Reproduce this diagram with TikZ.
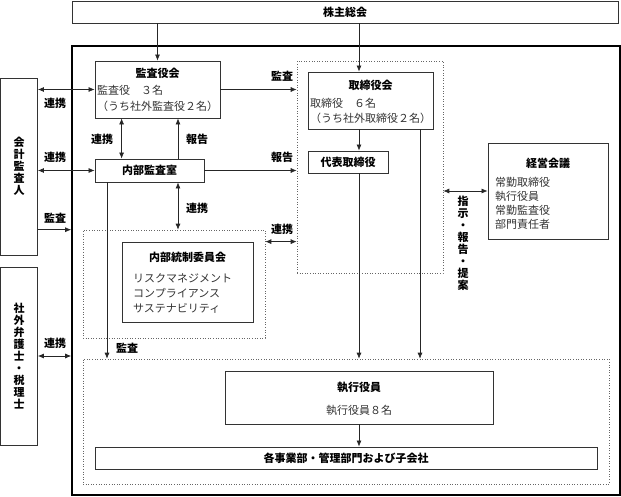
\documentclass[tikz,border=0pt]{standalone}
\usepackage{fontspec}
\newfontfamily\cjk{Noto Sans CJK JP}
\usetikzlibrary{arrows.meta,positioning,calc}

\begin{document}
\begin{tikzpicture}[x=1pt,y=-1pt]
  \tikzstyle{box}=[draw=black!80, line width=0.8pt, inner sep=0pt]
  \tikzstyle{dotbox}=[draw=black!60, dotted, line width=0.6pt, inner sep=0pt]
  \tikzstyle{title}=[font=\cjk\bfseries\fontsize{11}{13}\selectfont, inner sep=0pt]
  \tikzstyle{body}=[font=\cjk\fontsize{11}{13}\selectfont, text=black!80, inner sep=0pt, anchor=west]
  \tikzstyle{lbl}=[font=\cjk\bfseries\fontsize{11}{13}\selectfont, inner sep=0pt]
  \tikzstyle{vtext}=[font=\cjk\bfseries\fontsize{11}{12}\selectfont, align=center, inner sep=0pt]
  \tikzstyle{arr}=[-{Latex[length=6pt,width=5pt]}, line width=0.7pt, black!85]
  \tikzstyle{darr}=[{Latex[length=6pt,width=5pt]}-{Latex[length=6pt,width=5pt]}, line width=0.7pt, black!85]

  \useasboundingbox (0,0) rectangle (621,497);

  % Marco y cajas
  \node[box, minimum width=546pt, minimum height=22pt] (kabu) at (345,12) {};
  \node[title] (kabutxt) at (kabu) {株主総会};
  \node[draw=black, line width=1.6pt, minimum width=548pt, minimum height=449pt] (frame) at (346,270.5) {};

  \node[box, minimum width=37pt, minimum height=177pt] (kaikei) at (19,166.5) {};
  \node[vtext] (kaikeitxt) at (kaikei) {会\\計\\監\\査\\人};
  \node[box, minimum width=37pt, minimum height=178pt] (bengo) at (19,356) {};
  \node[vtext] (bengotxt) at (bengo) {社\\外\\弁\\護\\士\\・\\税\\理\\士};

  \node[box, minimum width=125pt, minimum height=57pt] (kansa) at (157.5,89.5) {};
  \node[title] (kansattl) at (157.5,73) {監査役会};
  \node[body] (kansa1) at (97,90) {監査役　３名};
  \node[body] (kansa2) at (97,106) {（うち社外監査役２名）};

  \node[box, minimum width=109pt, minimum height=23pt] (naibu) at (149.5,170.5) {};
  \node[title] (naibutxt) at (naibu) {内部監査室};

  \node[dotbox, minimum width=182pt, minimum height=108pt] (naidot) at (174,284) {};
  \node[box, minimum width=131pt, minimum height=80pt] (tosei) at (187.5,282) {};
  \node[title] (toseittl) at (187.5,257) {内部統制委員会};
  \node[body] (tosei1) at (133,278) {リスクマネジメント};
  \node[body] (tosei2) at (133,293) {コンプライアンス};
  \node[body] (tosei3) at (133,308) {サステナビリティ};

  \node[dotbox, minimum width=146pt, minimum height=212pt] (toridot) at (370,167) {};
  \node[box, minimum width=125pt, minimum height=57pt] (tori) at (370.5,100.5) {};
  \node[title] (torittl) at (370.5,85) {取締役会};
  \node[body] (tori1) at (310,103) {取締役　６名};
  \node[body] (tori2) at (310,118) {（うち社外取締役２名）};
  \node[box, minimum width=80pt, minimum height=22pt] (daihyo) at (348,162) {};
  \node[title] (daihyotxt) at (daihyo) {代表取締役};

  \node[box, minimum width=120pt, minimum height=96pt] (keiei) at (548,191) {};
  \node[title] (keieittl) at (548,163) {経営会議};
  \node[body] (keiei1) at (495,182) {常勤取締役};
  \node[body] (keiei2) at (495,196) {執行役員};
  \node[body] (keiei3) at (495,210) {常勤監査役};
  \node[body] (keiei4) at (495,224) {部門責任者};

  \node[dotbox, minimum width=526pt, minimum height=125pt] (lowdot) at (346,421.5) {};
  \node[box, minimum width=268pt, minimum height=53pt] (shikko) at (359,397.5) {};
  \node[title] (shikkottl) at (359,387) {執行役員};
  \node[body, anchor=center] (shikko1) at (359,410) {執行役員８名};
  \node[box, minimum width=502pt, minimum height=22pt] (kaku) at (346,458) {};
  \node[title] (kakutxt) at (kaku) {各事業部・管理部門および子会社};

  % Columnas de las flechas verticales
  \coordinate (xa) at (107,0);
  \coordinate (xb) at (178,0);
  \coordinate (xc) at (359,0);
  \coordinate (xd) at (420,0);

  % Flechas
  \draw[arr] (kansa.north |- kabu.south) -- (kansa.north);
  \draw[arr] (kabu.south -| xc) -- (tori.north -| xc);
  \draw[arr] (tori.south -| xc) -- (daihyo.north -| xc);
  \draw[arr] (daihyo.south -| xc) -- (lowdot.north -| xc);
  \draw[arr] (tori.south -| xd) -- (lowdot.north -| xd);
  \draw[arr] (shikko.south) -- (kaku.north -| shikko.south);

  \draw[darr] (kaikei.east |- kansa.west) -- (kansa.west);
  \draw[darr] (kaikei.east |- naibu.west) -- (naibu.west);
  \draw[arr] (kaikei.east |- naidot.north) -- (frame.west |- naidot.north);
  \draw[darr] (bengo.east) -- (frame.west |- bengo.east);

  \draw[darr] (kansa.south -| tosei.west) -- (naibu.north -| tosei.west);
  \draw[arr] (naibu.north -| xb) -- (kansa.south -| xb);
  \draw[darr] (naibu.south -| xb) -- (naidot.north -| xb);
  \draw[arr] (naibu.south -| xa) -- (lowdot.north -| xa);

  \draw[arr] (kansa.east) -- (toridot.west |- kansa.east);
  \draw[arr] (naibu.east) -- (toridot.west |- naibu.east);
  \draw[darr] (naidot.east |- tosei.north) -- (toridot.west |- tosei.north);
  \draw[darr] (toridot.east |- keiei.west) -- (keiei.west);

  % Etiquetas
  \node[lbl] (l1) at (55,103) {連携};
  \node[lbl] (l2) at (55,157) {連携};
  \node[lbl] (l3) at (55,218) {監査};
  \node[lbl] (l4) at (55,343) {連携};
  \node[lbl] (l5) at (102,139) {連携};
  \node[lbl] (l6) at (197,139) {報告};
  \node[lbl] (l7) at (197,208) {連携};
  \node[lbl] (l8) at (127,348) {監査};
  \node[lbl] (l9) at (282,76) {監査};
  \node[lbl] (l10) at (282,157) {報告};
  \node[lbl] (l11) at (282,229) {連携};
  \node[vtext] (l12) at (463,243) {指\\示\\・\\報\\告\\・\\提\\案};
\end{tikzpicture}
\end{document}
